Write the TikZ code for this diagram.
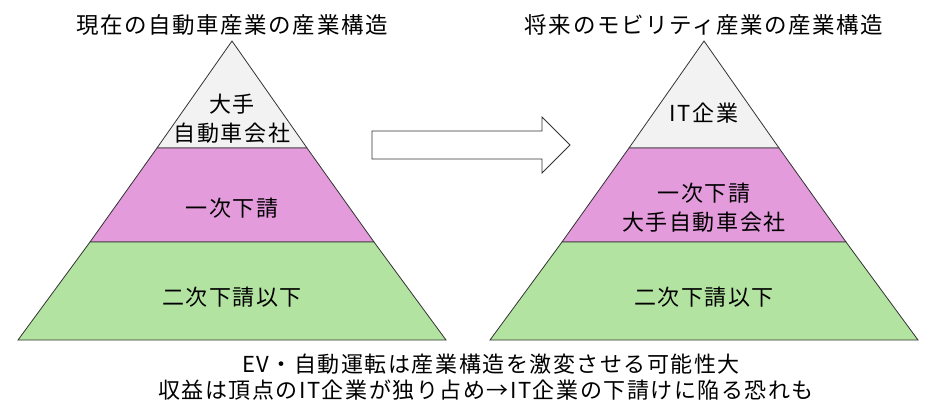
\documentclass[tikz,border=0pt]{standalone}
\usepackage{fontspec}
\setmainfont{Noto Sans CJK JP}[LetterSpace=7]
\definecolor{topgray}{HTML}{F2F2F2}
\definecolor{midpink}{HTML}{E39BDB}
\definecolor{basegreen}{HTML}{B2E3A1}
\begin{document}
\begin{tikzpicture}[x=1pt,y=-1pt,
  band/.style={draw=black!80, line width=0.8pt, line join=miter},
  lbl/.style={font=\fontsize{22}{29}\selectfont, align=center, inner sep=0pt},
  ttl/.style={font=\fontsize{22.5}{27}\selectfont, inner sep=0pt},
  note/.style={font=\fontsize{22}{27}\selectfont, inner sep=0pt}]
\useasboundingbox (0,0) rectangle (942,406);
\fill[white] (0,0) rectangle (942,406);
% left pyramid
\path[band, fill=topgray] (232,41) -- (307,148) -- (157,148) -- cycle;
\path[band, fill=midpink] (157,148) -- (307,148) -- (374,242) -- (90,242) -- cycle;
\path[band, fill=basegreen] (90,242) -- (374,242) -- (446,340) -- (18,340) -- cycle;
% right pyramid
\path[band, fill=topgray] (704,41) -- (779,148) -- (629,148) -- cycle;
\path[band, fill=midpink] (629,148) -- (779,148) -- (846,242) -- (562,242) -- cycle;
\path[band, fill=basegreen] (562,242) -- (846,242) -- (918,340) -- (490,340) -- cycle;
% arrow
\draw[band, fill=white] (372,131) -- (542,131) -- (542,117) -- (570,145) -- (542,173) -- (542,159) -- (372,159) -- cycle;
% titles
\node[ttl] (t1) at (232,25) {現在の自動車産業の産業構造};
\node[ttl] (t2) at (704,25) {将来のモビリティ産業の産業構造};
% labels left
\node[lbl] (l1) at (232,119) {大手\\自動車会社};
\node[lbl] (l2) at (232,208) {一次下請};
\node[lbl] (l3) at (232,297) {二次下請以下};
% labels right
\node[lbl] (r1) at (704,113) {IT企業};
\node[lbl] (r2) at (704,208) {一次下請\\大手自動車会社};
\node[lbl] (r3) at (704,297) {二次下請以下};
% notes
\node[note] (n1) at (491,364) {EV・自動運転は産業構造を激変させる可能性大};
\node[note] (n2) at (486,390) {収益は頂点のIT企業が独り占め→IT企業の下請けに陥る恐れも};
\end{tikzpicture}
\end{document}
